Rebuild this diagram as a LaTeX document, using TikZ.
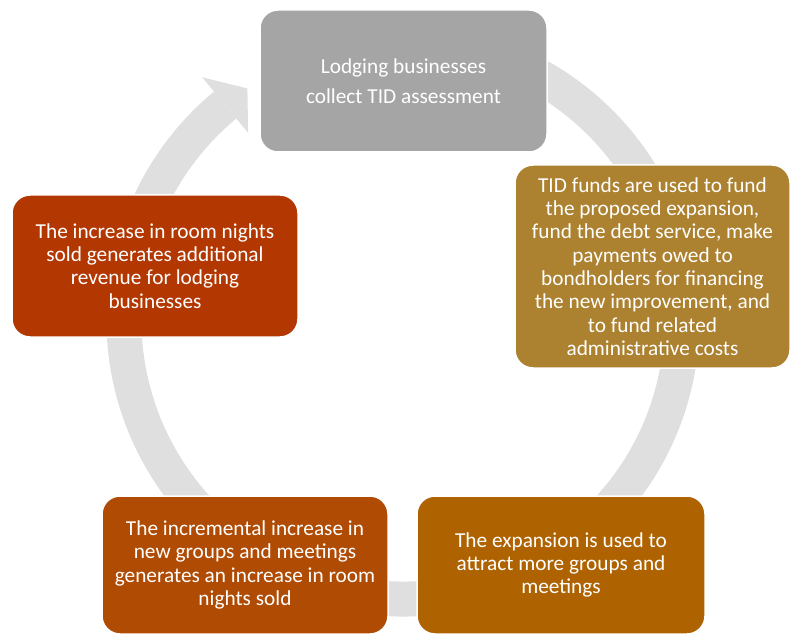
\documentclass[tikz,border=0pt]{standalone}
\usepackage{fontspec}
\setmainfont{Carlito}
\usepackage{tikz}

\definecolor{bandgray}{RGB}{223,223,223}
\definecolor{boxgray}{RGB}{165,165,165}
\definecolor{boxgold}{RGB}{172,129,48}
\definecolor{boxamber}{RGB}{175,98,0}
\definecolor{boxrust}{RGB}{176,75,4}
\definecolor{boxred}{RGB}{179,55,0}

\tikzset{
  cyclebox/.style={rectangle, rounded corners=18pt, draw=white, line width=1.5pt,
    text=white, align=center, inner sep=0pt,
    font=\fontsize{21.3}{23.3}\selectfont}
}

\begin{document}
\begin{tikzpicture}[x=1pt, y=1pt]
            \useasboundingbox (0,0) rectangle (791,635);
            
            % Centro del ciclo
            \coordinate (centro) at (403,315);
            
            % Banda circular
            \draw[bandgray, line width=35pt] ([shift={(80:279)}]centro)
                arc[start angle=80, end angle=-230.4, radius=279];
            
            % Punta de la flecha
            \fill[bandgray] ([shift={(129.6:315)}]centro) -- ([shift={(123.9:279)}]centro)
                -- ([shift={(129.6:243)}]centro) -- cycle;
            
            % Cajas
            \node[cyclebox, fill=boxgray, minimum width=287pt, minimum height=142pt,
                font=\fontsize{21.3}{30}\selectfont] (collect) at (403.5,554)
                {Lodging businesses\\collect TID assessment};
            \node[cyclebox, fill=boxgold, minimum width=275pt, minimum height=203pt] (funds) at (652.5,368.5)
                {TID funds are used to fund\\the proposed expansion,\\fund the debt service, make\\payments owed to\\bondholders for financing\\the new improvement, and\\to fund related\\administrative costs};
            \node[cyclebox, fill=boxamber, minimum width=288pt, minimum height=138pt] (expand) at (561,70)
                {The expansion is used to\\attract more groups and\\meetings};
            \node[cyclebox, fill=boxrust, minimum width=286pt, minimum height=138pt] (groups) at (245,70)
                {The incremental increase in\\new groups and meetings\\generates an increase in room\\nights sold};
            \node[cyclebox, fill=boxred, minimum width=286pt, minimum height=142pt] (revenue) at (155,369)
                {The increase in room nights\\sold generates additional\\revenue for lodging\\businesses};
        \end{tikzpicture}
\end{document}
